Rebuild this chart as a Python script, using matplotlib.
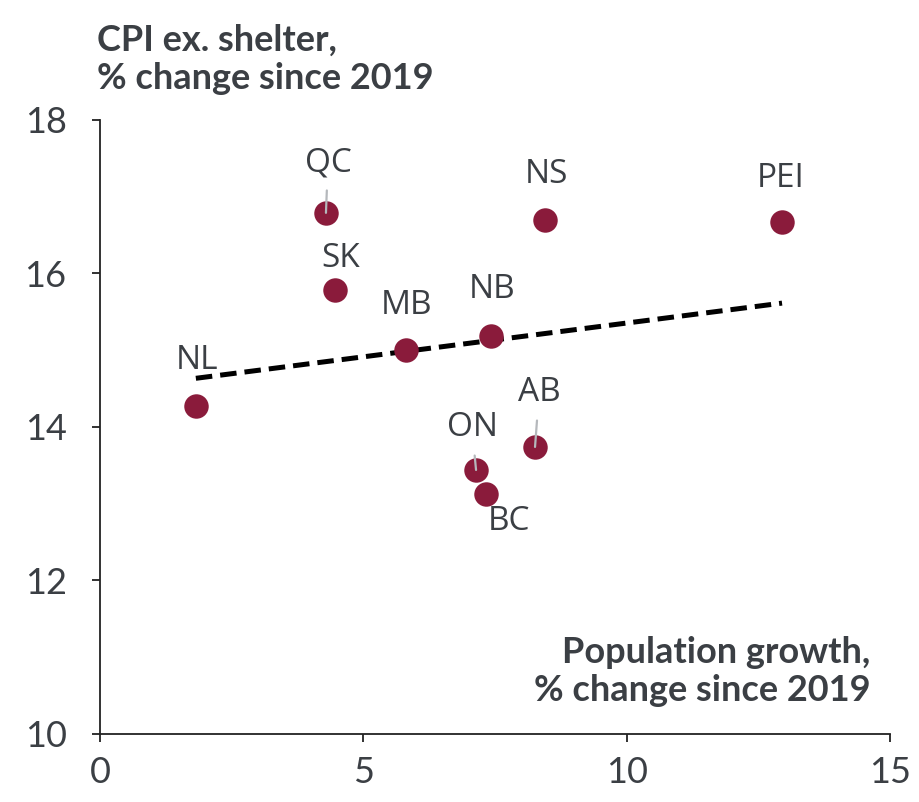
import numpy as np
import matplotlib
matplotlib.use("Agg")
import matplotlib.pyplot as plt

provinces = ["QC", "NS", "PEI", "SK", "MB", "NB", "NL", "AB", "ON", "BC"]
pop_growth = [4.29, 8.45, 12.95, 4.46, 5.81, 7.42, 1.82, 8.26, 7.14, 7.33]
cpi_ex_shelter = [16.79, 16.70, 16.67, 15.79, 15.00, 15.19, 14.27, 13.74, 13.44, 13.13]

# label offsets in pixels from each point
offsets = {
    "QC": (2, 50), "NS": (1, 45), "PEI": (-1, 44), "SK": (6, 31),
    "MB": (1, 45), "NB": (1, 46), "NL": (1, 46), "AB": (4, 54),
    "ON": (-4, 42), "BC": (23, -28),
}
leaders = ["QC", "AB", "ON"]

text_col = "#3b3f44"
dot_col = "#8a1b3b"

fig = plt.figure(figsize=(9.2, 8.02), dpi=100)
ax = fig.add_axes([0.1087, 0.0848, 0.8587, 0.7656])

ax.scatter(pop_growth, cpi_ex_shelter, s=310, color=dot_col, zorder=3, linewidths=0)

# linear trend
slope, intercept = np.polyfit(pop_growth, cpi_ex_shelter, 1)
xs = np.array([min(pop_growth), max(pop_growth)])
ax.plot(xs, slope * xs + intercept, color="black", linestyle=(0, (3.3, 1.6)),
        linewidth=3.6, zorder=2)

for name, x, y in zip(provinces, pop_growth, cpi_ex_shelter):
    dx, dy = offsets[name]
    props = None
    if name in leaders:
        props = dict(arrowstyle="-", color="#b5b8bc", lw=1.6, shrinkA=6, shrinkB=0)
    ax.annotate(name, (x, y), xytext=(dx, dy), textcoords="offset pixels",
                ha="center", va="center", fontsize=24, color=text_col,
                family="Open Sans", arrowprops=props, zorder=4)

ax.set_xlim(0, 15)
ax.set_ylim(10, 18)
ax.set_xticks([0, 5, 10, 15])
ax.set_yticks([10, 12, 14, 16, 18])

for side in ["top", "right"]:
    ax.spines[side].set_visible(False)
for side in ["left", "bottom"]:
    ax.spines[side].set_color("#222222")
    ax.spines[side].set_linewidth(1.3)

ax.tick_params(axis="both", direction="out", length=6, width=1.3, color="#222222",
               labelsize=26, labelcolor=text_col)
ax.tick_params(axis="y", pad=18)
ax.tick_params(axis="x", pad=10)
for lab in ax.get_xticklabels() + ax.get_yticklabels():
    lab.set_family("Lato")

fig.text(0.105, 0.926, "CPI ex. shelter,\n% change since 2019", ha="left", va="center",
         fontsize=26, fontweight="bold", color=text_col, family="Lato", linespacing=1.2)
fig.text(0.946, 0.163, "Population growth,\n% change since 2019", ha="right", va="center",
         fontsize=26, fontweight="bold", color=text_col, family="Lato", linespacing=1.2)

fig.savefig("out.png", dpi=100, facecolor="white")
